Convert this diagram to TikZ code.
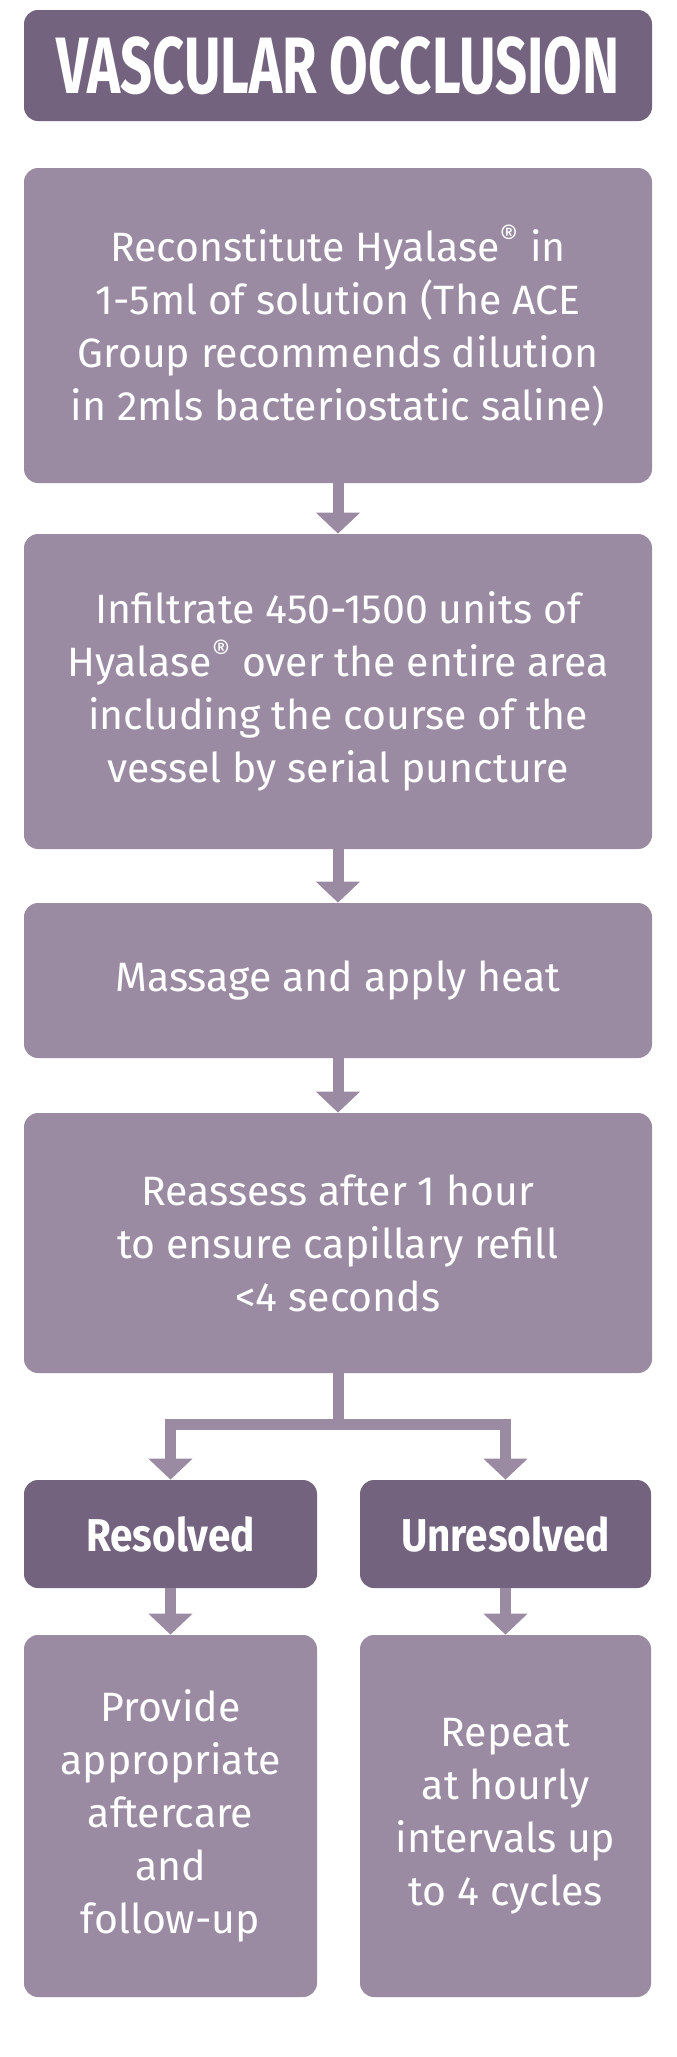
\documentclass[tikz,border=0pt]{standalone}
\usepackage{fontspec}
\setmainfont{Fira Sans}
\newfontfamily\headfont{Fira Sans}[FakeStretch=0.7]
\newfontfamily\labelfont{Fira Sans}[FakeStretch=0.88]
\usepackage{tikz}
\usetikzlibrary{arrows.meta}
\definecolor{plumdark}{HTML}{73637F}
\definecolor{plumlight}{HTML}{9A8BA3}

\tikzset{
  stepbox/.style={fill=plumlight, rounded corners=7pt, text=white, align=center,
    inner sep=0pt, minimum width=314pt, font=\fontsize{20.5}{26.5}\selectfont},
  headbox/.style={stepbox, fill=plumdark},
  flow/.style={draw=plumlight, line width=5.5pt, -{Triangle[width=21.5pt,length=10.5pt]}},
  stem/.style={draw=plumlight, line width=5.5pt}
}

\begin{document}
\begin{tikzpicture}[x=0.5pt, y=-0.5pt]

    \useasboundingbox (0,0) rectangle (676,2057);

    % main column
    \node[headbox, minimum height=55.5pt] (title) at (338,65.5)
        {\headfont\bfseries\fontsize{40}{40}\selectfont VASCULAR OCCLUSION};
    \node[stepbox, minimum height=157.5pt] (recon) at (338,325.5)
        {Reconstitute Hyalase\textsuperscript{®} in\\1-5ml of solution (The ACE\\Group recommends dilution\\in 2mls bacteriostatic saline)};
    \node[stepbox, minimum height=157.5pt] (infil) at (338,691.5)
        {Infiltrate 450-1500 units of\\Hyalase\textsuperscript{®} over the entire area\\including the course of the\\vessel by serial puncture};
    \node[stepbox, minimum height=77.5pt] (massage) at (338,980.5)
        {Massage and apply heat};
    \node[stepbox, minimum height=130pt] (reassess) at (338,1243)
        {Reassess after 1 hour\\to ensure capillary refill\\<4 seconds};

    % the two outcomes
    \node[headbox, minimum width=146.5pt, minimum height=54pt] (res) at (170.5,1534)
        {\labelfont\bfseries\fontsize{23}{26}\selectfont Resolved};
    \node[headbox, minimum width=145.5pt, minimum height=54pt] (unres) at (505.5,1534)
        {\labelfont\bfseries\fontsize{23}{26}\selectfont Unresolved};
    \node[stepbox, minimum width=146.5pt, minimum height=181pt] (after) at (170.5,1816)
        {Provide\\appropriate\\aftercare\\and\\follow-up};
    \node[stepbox, minimum width=145.5pt, minimum height=181pt] (repeat) at (505.5,1816)
        {Repeat\\at hourly\\intervals up\\to 4 cycles};

    \coordinate (split) at (338,1424);

    \draw[flow] (recon) -- (infil);
    \draw[flow] (infil) -- (massage);
    \draw[flow] (massage) -- (reassess);
    \draw[stem] (reassess.south) -- (split);
    \draw[flow] (split) -| (res.north);
    \draw[flow] (split) -| (unres.north);
    \draw[flow] (res) -- (after);
    \draw[flow] (unres) -- (repeat);

\end{tikzpicture}
\end{document}
